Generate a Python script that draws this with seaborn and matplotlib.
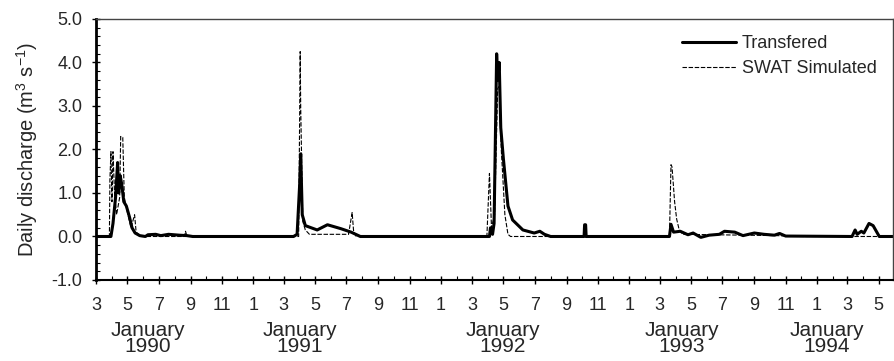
import pandas as pd
import matplotlib
matplotlib.use("Agg")
import matplotlib.pyplot as plt
import matplotlib.dates as mdates
from matplotlib.ticker import MultipleLocator, FuncFormatter
import seaborn as sns

# ------------------------------------------------------------------
# data (daily discharge, m3/s)
# ------------------------------------------------------------------
transfered_dates = [
    "1990-03-01", "1990-03-30", "1990-04-03", "1990-04-08", "1990-04-12",
    "1990-04-14", "1990-04-17", "1990-04-20", "1990-04-24", "1990-04-29",
    "1990-05-05", "1990-05-10", "1990-05-16", "1990-05-25", "1990-06-05",
    "1990-06-10", "1990-06-25", "1990-07-05", "1990-07-20", "1990-08-10",
    "1990-08-25", "1990-09-05",
    "1991-03-20", "1991-03-27", "1991-04-01", "1991-04-03", "1991-04-06",
    "1991-04-12", "1991-05-05", "1991-05-25", "1991-06-20", "1991-07-10",
    "1991-07-28",
    "1992-04-04", "1992-04-06", "1992-04-10", "1992-04-13", "1992-04-18",
    "1992-04-20", "1992-04-23", "1992-04-26", "1992-05-01", "1992-05-10",
    "1992-05-19", "1992-06-08", "1992-06-30", "1992-07-11", "1992-07-20",
    "1992-08-01", "1992-10-05", "1992-10-06", "1992-10-08", "1992-10-09",
    "1993-03-20", "1993-03-23", "1993-03-28", "1993-04-10", "1993-04-25",
    "1993-05-05", "1993-05-20", "1993-06-05", "1993-06-25", "1993-07-05",
    "1993-07-25", "1993-08-10", "1993-09-01", "1993-09-20", "1993-10-10",
    "1993-10-20", "1993-11-01",
    "1994-03-10", "1994-03-16", "1994-03-20", "1994-03-28", "1994-04-02",
    "1994-04-12", "1994-04-20", "1994-05-02", "1994-05-28",
]
transfered_q = [
    0.0, 0.0, 0.3, 0.9, 1.7,
    1.0, 1.4, 1.2, 0.8, 0.7,
    0.45, 0.2, 0.08, 0.02, 0.0,
    0.04, 0.05, 0.02, 0.05, 0.03,
    0.02, 0.0,
    0.0, 0.05, 1.2, 1.9, 0.5,
    0.25, 0.15, 0.27, 0.18, 0.1,
    0.0,
    0.0, 0.2, 0.05, 0.3, 4.2,
    3.6, 4.0, 2.5, 1.8, 0.7,
    0.38, 0.15, 0.08, 0.12, 0.05,
    0.0, 0.0, 0.27, 0.27, 0.0,
    0.0, 0.28, 0.1, 0.12, 0.04,
    0.08, -0.02, 0.03, 0.05, 0.12,
    0.1, 0.02, 0.08, 0.05, 0.03,
    0.07, 0.01,
    0.0, 0.15, 0.05, 0.12, 0.08,
    0.3, 0.25, 0.0, 0.0,
]

swat_dates = [
    "1990-03-01", "1990-03-27", "1990-03-28", "1990-03-30", "1990-04-01",
    "1990-04-03", "1990-04-06", "1990-04-10", "1990-04-16", "1990-04-18",
    "1990-04-22", "1990-04-25", "1990-05-02", "1990-05-08", "1990-05-15",
    "1990-05-18", "1990-05-28", "1990-08-20", "1990-08-22", "1990-08-25",
    "1991-03-30", "1991-04-02", "1991-04-03", "1991-04-07", "1991-04-12",
    "1991-04-20", "1991-07-05", "1991-07-12", "1991-07-15", "1991-07-20",
    "1992-03-30", "1992-04-04", "1992-04-08", "1992-04-14", "1992-04-20",
    "1992-04-23", "1992-04-27", "1992-05-04", "1992-05-10", "1992-05-15",
    "1993-03-20", "1993-03-23", "1993-03-25", "1993-03-30", "1993-04-03",
    "1993-04-08", "1993-04-15", "1993-10-15", "1993-12-01", "1994-05-28",
]
swat_q = [
    0.0, 0.0, 1.3, 1.95, 0.8,
    1.95, 1.0, 0.5, 0.9, 2.3,
    2.28, 0.9, 0.5, 0.2, 0.5,
    0.1, 0.0, 0.0, 0.12, 0.0,
    0.0, 4.25, 2.95, 0.35, 0.15,
    0.05, 0.05, 0.55, 0.1, 0.0,
    0.0, 1.45, 0.2, 0.5, 3.4,
    3.45, 2.0, 0.5, 0.05, 0.0,
    0.0, 1.65, 1.6, 0.8, 0.4,
    0.15, 0.05, 0.02, 0.0, 0.0,
]

year_labels = ["January\n1990", "January\n1991", "January\n1992",
               "January\n1993", "January\n1994"]
year_label_x = [0.1655, 0.3356, 0.5626, 0.7629, 0.925]

# ------------------------------------------------------------------
# style
# ------------------------------------------------------------------
sns.set_style("ticks")
plt.rcParams["font.family"] = ["Liberation Sans", "DejaVu Sans"]
plt.rcParams["mathtext.default"] = "regular"

fig = plt.figure(figsize=(8.94, 3.61), dpi=100)
ax = fig.add_axes([0.1074, 0.2244, 0.8911, 0.7230])

sns.lineplot(x=pd.to_datetime(transfered_dates), y=transfered_q, ax=ax,
             color="black", lw=2.2, label="Transfered")
sns.lineplot(x=pd.to_datetime(swat_dates), y=swat_q, ax=ax,
             color="black", lw=0.8, linestyle=(0, (4, 1.5)),
             label="SWAT Simulated")

# axes ranges / ticks
ax.set_xlim(pd.Timestamp("1990-03-01"), pd.Timestamp("1994-05-28"))
ax.set_ylim(-1.0, 5.0)
ax.yaxis.set_major_locator(MultipleLocator(1.0))
ax.yaxis.set_minor_locator(MultipleLocator(0.2))
ax.yaxis.set_major_formatter(FuncFormatter(lambda v, p: f"{v:.1f}"))

ax.xaxis.set_major_locator(mdates.MonthLocator(bymonth=[1, 3, 5, 7, 9, 11]))
ax.xaxis.set_minor_locator(mdates.MonthLocator())
ax.xaxis.set_major_formatter(
    FuncFormatter(lambda v, p: str(mdates.num2date(v).month)))

ax.tick_params(axis="both", which="major", labelsize=13, color="black",
               direction="inout", length=6, width=1.0, pad=7)
ax.tick_params(axis="both", which="minor", direction="in", length=3,
               width=0.8, color="black")
ax.tick_params(axis="x", which="major", pad=9)

ax.set_xlabel("")
ax.set_ylabel("Daily discharge (m$^3$ s$^{-1}$)", fontsize=14.5, labelpad=8)

for side in ["top", "right"]:
    ax.spines[side].set_linewidth(1.0)
    ax.spines[side].set_color("#444444")
ax.spines["left"].set_linewidth(2.0)
ax.spines["bottom"].set_linewidth(1.5)
for side in ["left", "bottom"]:
    ax.spines[side].set_color("black")

ax.legend(loc="upper right", frameon=False, fontsize=13,
          handlelength=3.0, handletextpad=0.3, labelspacing=0.45,
          borderaxespad=0.5)

for lab, xf in zip(year_labels, year_label_x):
    fig.text(xf, 0.062, lab, ha="center", va="center", fontsize=15,
             linespacing=0.82)

fig.savefig("out.png", dpi=100)
